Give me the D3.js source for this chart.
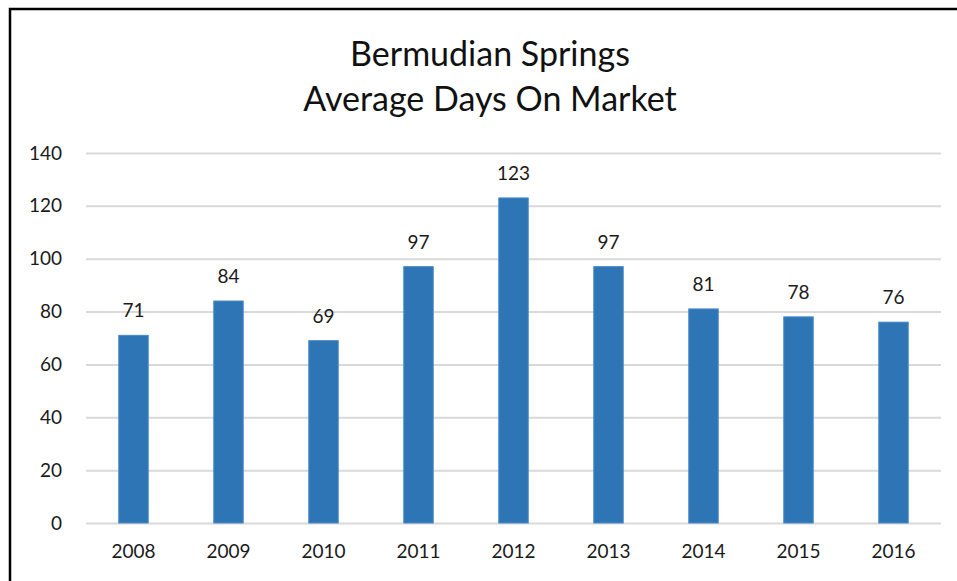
<!DOCTYPE html>
<html>
<head>
<meta charset="utf-8">
<script src="https://cdn.jsdelivr.net/npm/d3@7"></script>
<style>
  body { margin: 0; background: #fff; }
  svg { display: block; font-family: Lato, "Open Sans", sans-serif; }
</style>
</head>
<body>
<svg></svg>
<script>
const YEARS = ["2008", "2009", "2010", "2011", "2012", "2013", "2014", "2015", "2016"];
const DAYS = [71, 84, 69, 97, 123, 97, 81, 78, 76];
const Y_TICKS = [0, 20, 40, 60, 80, 100, 120, 140];
const TITLE_LINES = ["Bermudian Springs", "Average Days On Market"];

const WIDTH = 957;
const HEIGHT = 581;

const PLOT_LEFT = 86;
const PLOT_RIGHT = 941;
const PLOT_TOP = 153;
const PLOT_BOTTOM = 523;

const xScale = d3
  .scaleBand()
  .range([PLOT_LEFT, PLOT_RIGHT])
  .domain(YEARS)
  .paddingInner(0.69)
  .paddingOuter(0.345);

const yScale = d3
  .scaleLinear()
  .range([PLOT_BOTTOM, PLOT_TOP])
  .domain([0, 140]);

const svg = d3.select("svg").attr("width", WIDTH).attr("height", HEIGHT);

// frame (only left and top edges show in the picture)
svg
  .append("rect")
  .attr("x", 10)
  .attr("y", 9)
  .attr("width", WIDTH + 20)
  .attr("height", HEIGHT + 20)
  .attr("fill", "none")
  .attr("stroke", "#000")
  .attr("stroke-width", 2.5);

// title
svg
  .append("g")
  .selectAll("text")
  .data(TITLE_LINES)
  .enter()
  .append("text")
  .attr("x", 490)
  .attr("y", (d, i) => 66 + i * 45)
  .attr("text-anchor", "middle")
  .attr("font-size", 34)
  .attr("fill", "#111")
  .text((d) => d);

// gridlines + y labels
const yAxis = d3
  .axisLeft(yScale)
  .tickValues(Y_TICKS)
  .tickSize(-(PLOT_RIGHT - PLOT_LEFT))
  .tickPadding(24);

svg
  .append("g")
  .attr("transform", `translate(${PLOT_LEFT},0)`)
  .call(yAxis)
  .call((g) => g.select(".domain").remove())
  .call((g) => g.selectAll("line").attr("stroke", "#d9d9d9").attr("stroke-width", 2))
  .call((g) =>
    g
      .selectAll("text")
      .attr("font-family", "Lato, sans-serif")
      .attr("font-size", 19)
      .attr("fill", "#1a1a1a")
  );

// x labels
const xAxis = d3.axisBottom(xScale).tickSize(0).tickPadding(22);

svg
  .append("g")
  .attr("transform", `translate(0,${PLOT_BOTTOM})`)
  .call(xAxis)
  .call((g) => g.select(".domain").remove())
  .call((g) =>
    g
      .selectAll("text")
      .attr("font-family", "Lato, sans-serif")
      .attr("font-size", 19)
      .attr("fill", "#1a1a1a")
  );

const data = YEARS.map((year, i) => ({ year, value: DAYS[i] }));

// bars
svg
  .append("g")
  .selectAll(".bar")
  .data(data)
  .enter()
  .append("rect")
  .classed("bar", true)
  .attr("x", (d) => xScale(d.year))
  .attr("y", (d) => yScale(d.value))
  .attr("width", xScale.bandwidth())
  .attr("height", (d) => PLOT_BOTTOM - yScale(d.value))
  .attr("fill", "#2e75b6")
  .attr("stroke", "#4a8ac8")
  .attr("stroke-width", 1);

// values above bars
svg
  .append("g")
  .selectAll(".label")
  .data(data)
  .enter()
  .append("text")
  .classed("label", true)
  .attr("x", (d) => xScale(d.year) + xScale.bandwidth() / 2)
  .attr("y", (d) => yScale(d.value) - 18)
  .attr("text-anchor", "middle")
  .attr("font-size", 19)
  .attr("fill", "#1a1a1a")
  .text((d) => d.value);
</script>
</body>
</html>
